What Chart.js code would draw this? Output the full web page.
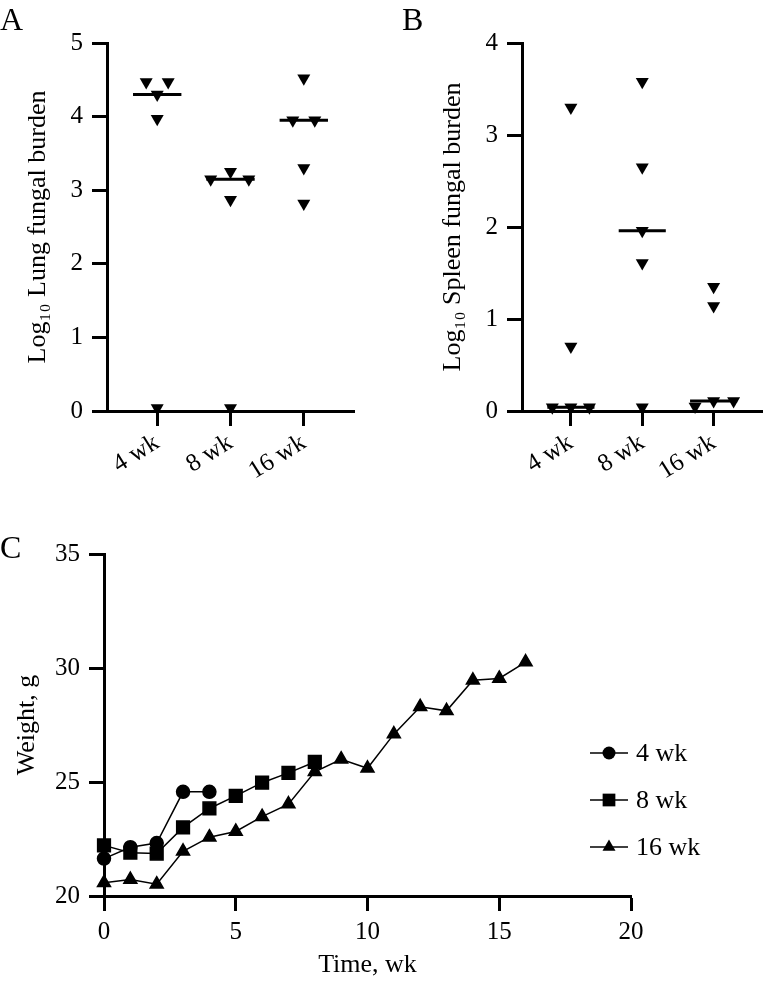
<!DOCTYPE html>
<html>
<head>
<meta charset="utf-8">
<script src="https://cdn.jsdelivr.net/npm/chart.js"></script>
<style>
  body { margin: 0; background: #fff; }
  #wrap { position: relative; width: 770px; height: 984px; font-family: "Liberation Serif", serif; }
  canvas { position: absolute; }
  .panel { position: absolute; font-size: 32px; line-height: 1; color: #000; }
</style>
</head>
<body>
<div id="wrap">
  <canvas id="lung" width="380" height="490" style="left:0;top:0"></canvas>
  <canvas id="spleen" width="390" height="490" style="left:380px;top:0"></canvas>
  <canvas id="weight" width="770" height="454" style="left:0;top:530px"></canvas>
  <div class="panel" style="left:0;top:3px">A</div>
  <div class="panel" style="left:402px;top:3px">B</div>
  <div class="panel" style="left:0;top:531px">C</div>
</div>
<script>
// groups on the x axis of A and B
const groups = ["4 wk", "8 wk", "16 wk"];

// A: log10 lung fungal burden, one value per mouse
const lung4 = [4.47, 4.47, 4.30, 3.97, 0.04];
const lung8 = [3.25, 3.15, 3.15, 2.87, 0.04];
const lung16 = [4.52, 3.95, 3.95, 3.30, 2.82];
// horizontal spread of the dots around each group (category units)
const lungSpread4 = [-0.15, 0.15, 0, 0, 0];
const lungSpread8 = [0, -0.27, 0.25, 0, 0];
const lungSpread16 = [0, -0.15, 0.15, 0, 0];

// B: log10 spleen fungal burden
const spleen4 = [3.30, 0.70, 0.04, 0.04, 0.04];
const spleen8 = [3.58, 2.65, 1.96, 1.61, 0.04];
const spleen16 = [1.35, 1.14, 0.11, 0.11, 0.05];
const spleenSpread4 = [0, 0, -0.26, 0, 0.26];
const spleenSpread8 = [0, 0, 0, 0, 0];
const spleenSpread16 = [0, 0, 0, 0.28, -0.26];

// C: body weight over time
const weeks = [0, 1, 2, 3, 4, 5, 6, 7, 8, 9, 10, 11, 12, 13, 14, 15, 16];
const weight4 = [21.64, 22.14, 22.32, 24.57, 24.57];
const weight8 = [22.22, 21.90, 21.86, 23.01, 23.84, 24.39, 24.97, 25.40, 25.88];
const weight16 = [20.58, 20.72, 20.52, 21.96, 22.58, 22.83, 23.48, 24.03, 25.45, 26.00, 25.60, 27.10, 28.30, 28.12, 29.46, 29.54, 30.26];
const weightLabels = ["4 wk", "8 wk", "16 wk"];

const FONT = "Liberation Serif";
const black = "#000";

function median(arr) {
  const s = [...arr].sort((a, b) => a - b);
  const m = Math.floor(s.length / 2);
  return s.length % 2 ? s[m] : (s[m - 1] + s[m]) / 2;
}

function dots(groupsVals, spreads) {
  const pts = [];
  groupsVals.forEach((vals, g) => {
    vals.forEach((v, j) => pts.push({ x: g + 1 + spreads[g][j], y: v }));
  });
  return pts;
}

function medianBars(groupsVals) {
  const pts = [];
  groupsVals.forEach((vals, g) => {
    const m = median(vals);
    pts.push({ x: g + 1 - 0.33, y: m }, { x: g + 1 + 0.33, y: m }, { x: g + 1.5, y: null });
  });
  return pts;
}

function axisBase() {
  return {
    grid: { display: true, drawOnChartArea: false, drawTicks: true, tickLength: 15, tickWidth: 3, tickColor: black, color: black },
    border: { display: true, width: 3, color: black },
    ticks: { color: black, font: { family: FONT, size: 25 } },
  };
}

function dotPlot(canvasId, vals, spreads, yMax, yTitle, yWidth, titlePad, padRight) {
  const x = axisBase();
  x.type = "linear";
  x.min = 0.315;
  x.max = 3.685;
  x.ticks.padding = 2;
  x.ticks.minRotation = 32;
  x.ticks.maxRotation = 32;
  x.ticks.autoSkip = false;
  x.ticks.callback = v => groups[v - 1];
  x.afterBuildTicks = axis => { axis.ticks = [1, 2, 3].map(v => ({ value: v })); };
  x.afterFit = axis => { axis.height = 79; };

  const y = axisBase();
  y.min = 0;
  y.max = yMax;
  y.ticks.stepSize = 1;
  y.ticks.padding = 9;
  y.title = { display: true, text: yTitle, color: black, font: { family: FONT, size: 26 }, padding: { top: titlePad, bottom: 0 } };
  y.afterFit = axis => { axis.width = yWidth; };

  return new Chart(document.getElementById(canvasId), {
    type: "scatter",
    data: {
      datasets: [
        {
          data: medianBars(vals),
          showLine: true,
          spanGaps: false,
          borderColor: black,
          borderWidth: 3,
          pointRadius: 0,
          clip: false,
        },
        {
          data: dots(vals, spreads),
          pointStyle: "triangle",
          rotation: 180,
          pointRadius: 7.5,
          backgroundColor: black,
          borderColor: black,
          borderWidth: 0,
          clip: false,
        },
      ],
    },
    options: {
      responsive: false,
      animation: false,
      layout: { padding: { top: 43, right: padRight, left: 0, bottom: 0 } },
      plugins: { legend: { display: false }, tooltip: { enabled: false } },
      scales: { x: x, y: y },
    },
  });
}

dotPlot("lung", [lung4, lung8, lung16], [lungSpread4, lungSpread8, lungSpread16], 5,
  "Log\u2081\u2080 Lung fungal burden", 107, 23, 26);
dotPlot("spleen", [spleen4, spleen8, spleen16], [spleenSpread4, spleenSpread8, spleenSpread16], 4,
  "Log\u2081\u2080 Spleen fungal burden", 142, 58, 3);

// legend to the right of panel C: short line with the marker, then the label
const sideLegend = {
  id: "sideLegend",
  afterDraw(chart) {
    const ctx = chart.ctx;
    chart.data.datasets.forEach((ds, i) => {
      const y = 223 + i * 47;
      ctx.save();
      ctx.strokeStyle = black;
      ctx.lineWidth = 1.5;
      ctx.beginPath();
      ctx.moveTo(590, y);
      ctx.lineTo(628, y);
      ctx.stroke();
      ctx.fillStyle = black;
      Chart.helpers.drawPoint(ctx, { pointStyle: ds.pointStyle, radius: ds.pointRadius, borderWidth: 0, rotation: 0 }, 609, y);
      ctx.font = "26px " + FONT;
      ctx.textBaseline = "middle";
      ctx.textAlign = "left";
      ctx.fillText(ds.label, 636, y + 1);
      ctx.restore();
    });
  },
};

function series(vals) {
  return vals.map((v, i) => ({ x: weeks[i], y: v }));
}

const cx = axisBase();
cx.min = 0;
cx.max = 20;
cx.ticks.stepSize = 5;
cx.ticks.padding = 6;
cx.title = { display: true, text: "Time, wk", color: black, font: { family: FONT, size: 26 }, padding: { top: 0, bottom: 3 } };
cx.afterFit = axis => { axis.height = 88; };

const cy = axisBase();
cy.min = 20;
cy.max = 35;
cy.ticks.stepSize = 5;
cy.ticks.padding = 9;
cy.title = { display: true, text: "Weight, g", color: black, font: { family: FONT, size: 26 }, padding: { top: 12, bottom: 0 } };
cy.afterFit = axis => { axis.width = 104; };

const lineStyle = { borderColor: black, backgroundColor: black, borderWidth: 1.5, showLine: true, clip: false };

new Chart(document.getElementById("weight"), {
  type: "scatter",
  data: {
    datasets: [
      { label: weightLabels[0], data: series(weight4), pointStyle: "circle", pointRadius: 6.5, ...lineStyle },
      { label: weightLabels[1], data: series(weight8), pointStyle: "rect", pointRadius: 9, ...lineStyle },
      { label: weightLabels[2], data: series(weight16), pointStyle: "triangle", pointRadius: 7.5, ...lineStyle },
    ],
  },
  options: {
    responsive: false,
    animation: false,
    layout: { padding: { top: 21, right: 139, left: 0, bottom: 0 } },
    plugins: { legend: { display: false }, tooltip: { enabled: false } },
    scales: { x: cx, y: cy },
  },
  plugins: [sideLegend],
});
</script>
</body>
</html>
